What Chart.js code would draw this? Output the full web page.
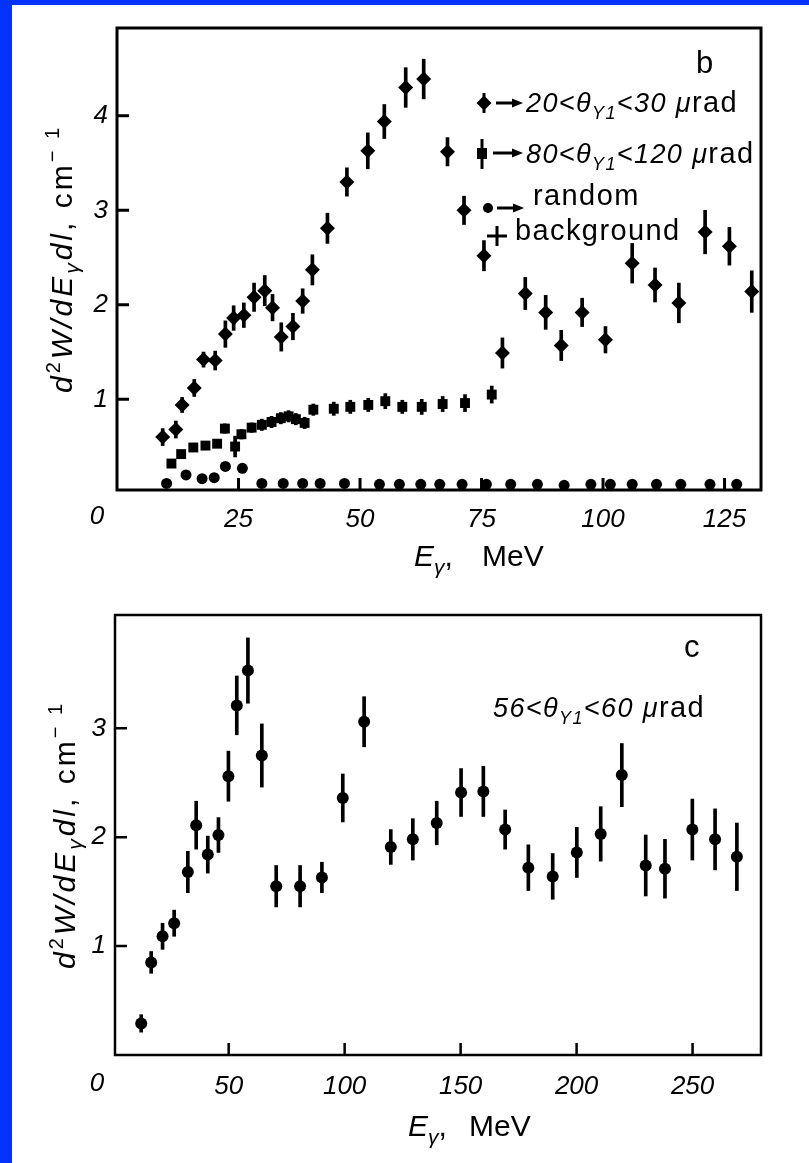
<!DOCTYPE html>
<html>
<head>
<meta charset="utf-8">
<script src="https://cdn.jsdelivr.net/npm/chart.js@4.4.0/dist/chart.umd.min.js"></script>
<style>
  html, body { margin: 0; padding: 0; background: #fff; }
  body { width: 809px; height: 1163px; position: relative; overflow: hidden; }
  .edgeLeft { position: absolute; left: 0; top: 0; width: 12px; height: 1163px; background: #0433ff; }
  .edgeTop { position: absolute; left: 0; top: 0; width: 809px; height: 5px; background: #0433ff; }
  #chartB { position: absolute; left: 0; top: 0; }
  #chartC { position: absolute; left: 0; top: 580px; }
</style>
</head>
<body>
<div class="edgeLeft"></div>
<div class="edgeTop"></div>
<canvas id="chartB" width="809" height="580"></canvas>
<canvas id="chartC" width="809" height="583"></canvas>
<script>
// Panel b: 20 < theta < 30 urad (diamonds)
const b20E = [9.4, 12.1, 13.4, 15.9, 17.8, 20.2, 22.3, 24.0, 26.1, 28.2, 30.4, 32.0, 33.8, 36.2, 38.2, 40.2,
  43.3, 47.3, 51.6, 55.0, 59.4, 63.1, 68.0, 71.4, 75.5, 79.3, 84.0, 88.2, 91.4, 95.7, 100.5, 106.0,
  110.7, 115.6, 121.0, 126.0, 130.6];
const b20Y = [0.60, 0.68, 0.94, 1.12, 1.42, 1.41, 1.69, 1.86, 1.89, 2.08, 2.15, 1.97, 1.66, 1.77, 2.04, 2.37,
  2.81, 3.30, 3.63, 3.94, 4.30, 4.39, 3.62, 3.00, 2.52, 1.49, 2.12, 1.92, 1.57, 1.92, 1.63, 2.44,
  2.21, 2.02, 2.77, 2.62, 2.14];
const b20Err = [0.09, 0.09, 0.08, 0.09, 0.08, 0.10, 0.14, 0.13, 0.13, 0.15, 0.16, 0.14, 0.15, 0.14, 0.13, 0.16,
  0.16, 0.15, 0.19, 0.18, 0.21, 0.21, 0.15, 0.15, 0.16, 0.16, 0.17, 0.18, 0.16, 0.15, 0.14, 0.21,
  0.18, 0.21, 0.23, 0.20, 0.22];

// Panel b: 80 < theta < 120 urad (squares)
const b80E = [11.2, 13.2, 15.7, 18.2, 20.6, 22.2, 24.3, 25.6, 27.7, 29.8, 31.8, 33.7, 35.3, 36.8, 38.6, 40.4,
  44.6, 48.0, 51.7, 55.2, 58.7, 62.7, 67.0, 71.6, 77.1];
const b80Y = [0.32, 0.42, 0.49, 0.51, 0.53, 0.69, 0.50, 0.63, 0.70, 0.73, 0.76, 0.80, 0.82, 0.79, 0.75, 0.89,
  0.90, 0.92, 0.94, 0.98, 0.92, 0.92, 0.95, 0.96, 1.05];
const b80Err = [0.04, 0.04, 0.04, 0.04, 0.04, 0.05, 0.11, 0.05, 0.05, 0.06, 0.06, 0.06, 0.06, 0.06, 0.06, 0.06,
  0.07, 0.07, 0.07, 0.08, 0.07, 0.08, 0.08, 0.09, 0.09];

// Panel b: random background (circles)
const bRandE = [10.2, 14.2, 17.5, 20.0, 22.3, 25.8, 29.8, 34.2, 38.2, 41.8, 46.8, 54.0, 58.1, 62.5, 66.4,
  71.0, 76.0, 81.0, 86.5, 92.0, 97.5, 101.5, 106.0, 111.0, 116.0, 122.0, 127.5];
const bRandY = [0.11, 0.20, 0.16, 0.17, 0.29, 0.27, 0.11, 0.11, 0.11, 0.11, 0.11, 0.10, 0.10, 0.10, 0.10,
  0.10, 0.10, 0.10, 0.10, 0.09, 0.10, 0.10, 0.10, 0.10, 0.10, 0.10, 0.10];

// Panel c: 56 < theta < 60 urad
const cE = [12.3, 16.6, 21.5, 26.5, 32.4, 36.0, 41.0, 45.6, 49.9, 53.5, 58.3, 64.3, 70.5, 80.8, 90.2, 99.2,
  108.4, 119.9, 129.4, 139.7, 150.2, 159.8, 169.2, 179.2, 189.7, 200.1, 210.4, 219.5, 229.8, 238.1,
  249.9, 259.7, 269.1];
const cY = [0.29, 0.85, 1.09, 1.21, 1.68, 2.11, 1.84, 2.02, 2.56, 3.21, 3.53, 2.75, 1.55, 1.55, 1.63, 2.36,
  3.06, 1.91, 1.98, 2.13, 2.41, 2.42, 2.07, 1.72, 1.64, 1.86, 2.03, 2.57, 1.74, 1.71,
  2.07, 1.98, 1.82];
const cErr = [0.08, 0.10, 0.12, 0.12, 0.19, 0.22, 0.17, 0.16, 0.23, 0.27, 0.30, 0.29, 0.19, 0.19, 0.14, 0.22,
  0.23, 0.16, 0.19, 0.20, 0.22, 0.23, 0.18, 0.21, 0.21, 0.23, 0.25, 0.29, 0.28, 0.27,
  0.28, 0.28, 0.31];

const FAM = '"Liberation Sans", Arial, sans-serif';
const TICK_FONT = { family: FAM, size: 26, style: 'italic' };
const IT = 'italic 27px ' + FAM;
const IT_SUB = 'italic 18px ' + FAM;
const UP = '29px ' + FAM;
const T_IT = 'italic 30px ' + FAM;
const T_SUB = 'italic 21px ' + FAM;
const T_UP = '30px ' + FAM;
const T_SUP = '20px ' + FAM;

function pts(xs, ys) {
  return xs.map((x, i) => ({ x: x, y: ys[i] }));
}
function errs(xs, ys, es) {
  return xs.map((x, i) => ({ x: x, y: [ys[i] - es[i], ys[i] + es[i]] }));
}

// draw a row of text pieces [text, font, dy]
function runs(ctx, x, y, parts, center) {
  let w = 0;
  parts.forEach(p => { ctx.font = p[1]; w += ctx.measureText(p[0]).width; });
  let cx = center ? x - w / 2 : x;
  parts.forEach(p => {
    ctx.font = p[1];
    ctx.fillText(p[0], cx, y + (p[2] || 0));
    cx += ctx.measureText(p[0]).width;
  });
}

function frameAndTicks(chart, lw, len) {
  const ctx = chart.ctx, a = chart.chartArea;
  const xs = chart.scales.x, ys = chart.scales.y;
  ctx.save();
  ctx.strokeStyle = '#000';
  ctx.lineWidth = lw;
  ctx.strokeRect(a.left, a.top, a.right - a.left, a.bottom - a.top);
  ctx.beginPath();
  xs.ticks.forEach(t => {
    const p = xs.getPixelForValue(t.value);
    if (p < a.left + 8 || p > a.right - 8) return;
    ctx.moveTo(p, a.bottom); ctx.lineTo(p, a.bottom - len);
  });
  ys.ticks.forEach(t => {
    const p = ys.getPixelForValue(t.value);
    if (p < a.top + 8 || p > a.bottom - 8) return;
    ctx.moveTo(a.left, p); ctx.lineTo(a.left + len, p);
  });
  ctx.stroke();
  ctx.restore();
}

function yTitle(ctx, x, y) {
  ctx.save();
  ctx.translate(x, y);
  ctx.rotate(-Math.PI / 2);
  ctx.fillStyle = '#000';
  ctx.textBaseline = 'alphabetic';
  ctx.letterSpacing = '3px';
  runs(ctx, 0, 0, [
    ['d', T_IT], ['2', T_SUP, -12], ['W/dE', T_IT], ['\u03b3', T_SUB, 7], ['dl', T_IT],
    [', cm', T_UP], ['\u2212 1', T_SUP, -13]
  ], true);
  ctx.restore();
}

function xTitle(ctx, x, y, gap) {
  ctx.save();
  ctx.fillStyle = '#000';
  runs(ctx, x, y, [['E', T_IT], ['\u03b3', T_SUB, 8], [',', T_UP]], false);
  ctx.font = T_UP;
  ctx.fillText('MeV', x + gap, y);
  ctx.restore();
}

function arrow(ctx, x1, x2, y) {
  ctx.beginPath();
  ctx.lineWidth = 3;
  ctx.moveTo(x1, y); ctx.lineTo(x2 - 8, y);
  ctx.stroke();
  ctx.beginPath();
  ctx.moveTo(x2, y); ctx.lineTo(x2 - 11, y - 4.5); ctx.lineTo(x2 - 11, y + 4.5);
  ctx.closePath();
  ctx.fill();
}

function theta(lo, hi) {
  return [[lo + '<\u03b8', IT], ['Y1', IT_SUB, 7], ['<' + hi + ' ', IT], ['\u03bc', IT], ['rad', UP]];
}

const overlayB = {
  id: 'overlayB',
  afterDraw(chart) {
    const ctx = chart.ctx, a = chart.chartArea;
    frameAndTicks(chart, 3, 12);
    ctx.save();
    ctx.fillStyle = '#000';
    ctx.strokeStyle = '#000';
    ctx.font = 'italic 26px ' + FAM;
    ctx.textAlign = 'center';
    ctx.textBaseline = 'top';
    ctx.fillText('0', a.left - 20, a.bottom + 14);
    ctx.textAlign = 'left';
    ctx.textBaseline = 'alphabetic';
    yTitle(ctx, 72, (a.top + a.bottom) / 2);
    xTitle(ctx, 414, 566, 68);
    ctx.font = '31px ' + FAM;
    ctx.fillText('b', 696, 73);
    // legend
    ctx.letterSpacing = '1.4px';
    ctx.beginPath();
    ctx.moveTo(484, 95.5); ctx.lineTo(491.5, 103); ctx.lineTo(484, 110.5); ctx.lineTo(476.5, 103);
    ctx.fill();
    ctx.fillRect(482.5, 93, 3, 20);
    arrow(ctx, 496, 523, 103);
    runs(ctx, 526, 112, theta('20', '30'));
    ctx.fillRect(477, 148, 10, 11);
    ctx.fillRect(480.5, 139, 3, 30);
    arrow(ctx, 493, 523, 153);
    runs(ctx, 526, 163, theta('80', '120'));
    ctx.beginPath(); ctx.arc(488, 208, 5, 0, Math.PI * 2); ctx.fill();
    arrow(ctx, 497, 524, 208);
    ctx.font = UP;
    ctx.fillText('random', 533, 205);
    ctx.fillRect(487, 234.5, 20, 3);
    ctx.fillRect(495.5, 226, 3, 20);
    ctx.fillText('background', 515, 240);
    ctx.restore();
  }
};

const overlayC = {
  id: 'overlayC',
  afterDraw(chart) {
    const ctx = chart.ctx, a = chart.chartArea;
    frameAndTicks(chart, 2.5, 12);
    ctx.save();
    ctx.fillStyle = '#000';
    ctx.font = 'italic 26px ' + FAM;
    ctx.textAlign = 'center';
    ctx.textBaseline = 'top';
    ctx.fillText('0', a.left - 18, a.bottom + 16);
    ctx.textAlign = 'left';
    ctx.textBaseline = 'alphabetic';
    yTitle(ctx, 75, (a.top + a.bottom) / 2);
    xTitle(ctx, 408, 556, 61);
    ctx.font = '31px ' + FAM;
    ctx.fillText('c', 684, 77);
    ctx.letterSpacing = '1.4px';
    runs(ctx, 493, 137, theta('56', '60'));
    ctx.restore();
  }
};

function panel(canvasId, datasets, xr, yr, box, overlay) {
  return new Chart(document.getElementById(canvasId), {
    type: 'scatter',
    data: { datasets: datasets },
    options: {
      responsive: false,
      animation: false,
      layout: { padding: { left: 0, top: box.top, right: box.right, bottom: 0 } },
      plugins: { legend: { display: false }, tooltip: { enabled: false } },
      scales: {
        x: {
          type: 'linear', min: xr.min, max: xr.max, offset: false,
          grid: { display: false, drawTicks: false, offset: false },
          border: { display: false },
          ticks: {
            stepSize: xr.step, includeBounds: false, padding: box.xPad,
            color: '#000', font: TICK_FONT, maxRotation: 0,
            callback: v => (v === 0 ? '' : v)
          },
          afterFit: s => { s.height = box.xH; }
        },
        y: {
          type: 'linear', min: yr.min, max: yr.max,
          grid: { display: false, drawTicks: false },
          border: { display: false },
          ticks: {
            stepSize: 1, includeBounds: false, padding: 9,
            color: '#000', font: TICK_FONT,
            callback: v => (v === 0 || v > yr.lastLabel ? '' : v)
          },
          afterFit: s => { s.width = box.yW; }
        }
      }
    },
    plugins: [overlay]
  });
}

function markers(xs, ys, style, r) {
  return { type: 'scatter', data: pts(xs, ys), pointStyle: style, pointRadius: r,
    backgroundColor: '#000', borderColor: '#000', borderWidth: 0, showLine: false };
}
function bars(xs, ys, es) {
  return { type: 'bar', data: errs(xs, ys, es), backgroundColor: '#000',
    barThickness: 3, grouped: false, borderWidth: 0 };
}

panel('chartB', [
  markers(b20E, b20Y, 'rectRot', 7.5),
  bars(b20E, b20Y, b20Err),
  markers(b80E, b80Y, 'rect', 7),
  bars(b80E, b80Y, b80Err),
  markers(bRandE, bRandY, 'circle', 5.5)
], { min: 0, max: 132.5, step: 25 }, { min: 0.04, max: 4.93, lastLabel: 4 },
  { top: 28, right: 48, xH: 90, yW: 117, xPad: 14 }, overlayB);

panel('chartC', [
  markers(cE, cY, 'circle', 6),
  bars(cE, cY, cErr)
], { min: 1, max: 279.5, step: 50 }, { min: 0, max: 4.04, lastLabel: 3 },
  { top: 35, right: 48, xH: 108, yW: 115, xPad: 16 }, overlayC);
</script>
</body>
</html>
